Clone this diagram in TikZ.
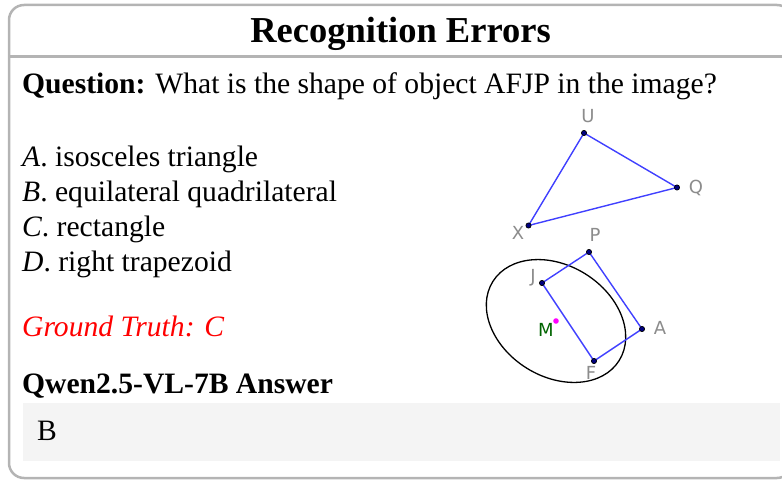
\documentclass[tikz,border=0pt]{standalone}
\usepackage{fontspec}
\setmainfont{Liberation Serif}
\setsansfont{DejaVu Sans}
\usetikzlibrary{positioning}
\definecolor{reFrame}{HTML}{B4B4B4}
\definecolor{reAnsBg}{HTML}{F4F4F4}
\definecolor{reBlue}{HTML}{4040FF}
\definecolor{rePt}{HTML}{00007F}
\definecolor{reLbl}{HTML}{8C8C8C}
\definecolor{reGreen}{HTML}{006400}
\definecolor{reMagenta}{HTML}{FF00FF}
\definecolor{reRed}{HTML}{FF0000}
\tikzset{
  re-text/.style={anchor=base west, inner sep=0pt,
    font=\fontsize{29.6}{35}\selectfont},
  re-title/.style={anchor=base, inner sep=0pt,
    font=\fontsize{36.5}{40}\selectfont\bfseries},
  re-frame/.style={draw=reFrame, line width=2.5pt, rounded corners=15pt},
  re-rule/.style={draw=reFrame, line width=2.5pt},
  re-ans/.style={fill=reAnsBg, draw=none, inner sep=0pt, anchor=north west,
    minimum width=757pt, minimum height=58pt},
  re-seg/.style={draw=reBlue, line width=1.4pt},
  re-ell/.style={draw=black, line width=1.3pt},
  re-dot/.style={fill=rePt, draw=black, line width=0.7pt},
  re-lbl/.style={font=\sffamily\fontsize{18}{18}\selectfont, text=reLbl,
    inner sep=0pt}
}

\begin{document}
\begin{tikzpicture}[x=1pt, y=-1pt]
\useasboundingbox (0,0) rectangle (782,481);

% card frame and header
\draw[re-frame] (9,478) -- (9,5) -- (792,5) -- (792,478) -- cycle;
\draw[re-rule] (9,56.5) -- (792,56.5);
\node[re-title] (title) at (400.5,43) {Recognition Errors};

% question and options
\node[re-text] (question) at (22,94)
  {\textbf{Question:} What is the shape of object AFJP in the image?};
\node[re-text] (optA) at (22,166.5) {\textit{A}. isosceles triangle};
\node[re-text] (optB) at (22,201.5) {\textit{B}. equilateral quadrilateral};
\node[re-text] (optC) at (22,236.5) {\textit{C}. rectangle};
\node[re-text] (optD) at (22,271.5) {\textit{D}. right trapezoid};
\node[re-text, text=reRed] (truth) at (22,336.5)
  {\textit{Ground Truth: C}};
\node[re-text] (model) at (22,393) {\textbf{Qwen2.5-VL-7B Answer}};
\node[re-ans] (ansbox) at (23,403) {};
\node[re-text] (answer) at (37,440) {B};

% figure points
\coordinate (U) at (584,133);
\coordinate (Q) at (677,187.5);
\coordinate (X) at (528.5,225.5);
\coordinate (P) at (589,252);
\coordinate (J) at (542,283);
\coordinate (A) at (642,329);
\coordinate (F) at (594,361);
\coordinate (M) at (556,321);

\draw[re-ell, rotate around={-32:(M)}] (M) ellipse (74.5pt and 55.5pt);
\draw[re-seg] (X) -- (U) -- (Q) -- cycle;
\draw[re-seg] (J) -- (P) -- (A) -- (F) -- cycle;
\foreach \p in {U,Q,X,P,J,A,F}
  \filldraw[re-dot] (\p) circle (2.6pt);
\fill[reMagenta] (M) circle (2.8pt);

% point labels
\node[re-lbl] (lU) at (588,116) {U};
\node[re-lbl] (lQ) at (696,187.5) {Q};
\node[re-lbl] (lX) at (518,232.5) {X};
\node[re-lbl] (lP) at (595,235) {P};
\node[re-lbl] (lJ) at (533,278) {J};
\node[re-lbl] (lA) at (660,327.5) {A};
\node[re-lbl] (lF) at (591,372.5) {F};
\node[re-lbl, text=reGreen] (lM) at (546,329.5) {M};
\end{tikzpicture}
\end{document}
